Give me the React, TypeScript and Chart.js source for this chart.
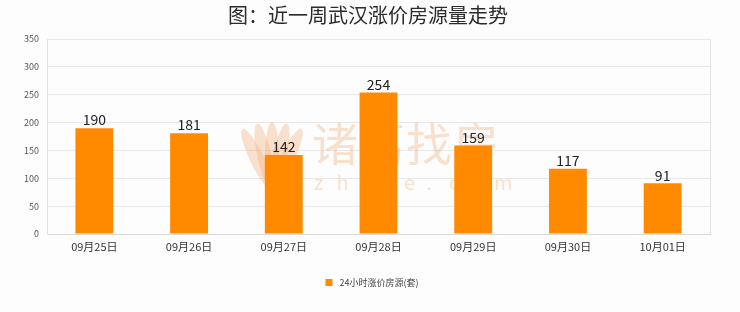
import React, { useEffect, useRef } from "react";
import { Chart, registerables } from "chart.js";

Chart.register(...registerables);

const categories = ["09月25日", "09月26日", "09月27日", "09月28日", "09月29日", "09月30日", "10月01日"];
const risingListings = [190, 181, 142, 254, 159, 117, 91];
const seriesName = "24小时涨价房源(套)";
const chartTitle = "图：近一周武汉涨价房源量走势";
const yTicks = [0, 50, 100, 150, 200, 250, 300, 350];

const BAR_COLOR = "#ff8a00";
const FONT = "'Noto Sans CJK SC', 'DejaVu Sans', sans-serif";

const decorPlugin = {
  id: "decor",
  beforeDatasetsDraw(chart: any) {
    const { ctx, chartArea } = chart;
    ctx.save();
    // right border of the plot
    ctx.strokeStyle = "#e3e3e3";
    ctx.lineWidth = 1;
    ctx.beginPath();
    ctx.moveTo(chartArea.right + 0.5, chartArea.top);
    ctx.lineTo(chartArea.right + 0.5, chartArea.bottom);
    ctx.stroke();

    // watermark
    ctx.fillStyle = "rgba(242, 160, 95, 0.30)";
    // petal logo
    const cx = 272, cy = 168;
    const petals = [-0.45, -0.22, 0, 0.22, 0.45];
    petals.forEach((a) => {
      ctx.save();
      ctx.translate(cx, cy + 22);
      ctx.rotate(a);
      ctx.beginPath();
      ctx.ellipse(0, -34, 7, 34, 0, 0, Math.PI * 2);
      ctx.fill();
      ctx.restore();
    });
    ctx.font = `46px ${FONT}`;
    ctx.textAlign = "left";
    ctx.textBaseline = "middle";
    const wm = "诸葛找房";
    for (let i = 0; i < wm.length; i++) {
      ctx.fillText(wm[i], 312 + i * 47, 144);
    }
    ctx.font = `20px ${FONT}`;
    const dom = "zhuge.com";
    for (let i = 0; i < dom.length; i++) {
      ctx.fillText(dom[i], 314 + i * 22.5, 182);
    }
    ctx.restore();
  },
  afterDatasetsDraw(chart: any) {
    const { ctx } = chart;
    const meta = chart.getDatasetMeta(0);
    ctx.save();
    ctx.fillStyle = "#222";
    ctx.font = `14px ${FONT}`;
    ctx.textAlign = "center";
    ctx.textBaseline = "bottom";
    meta.data.forEach((bar: any, i: number) => {
      ctx.fillText(String(risingListings[i]), bar.x, bar.y - 1);
    });
    ctx.restore();
  },
  afterDraw(chart: any) {
    const { ctx, width } = chart;
    ctx.save();
    // title
    ctx.fillStyle = "#2b2b2b";
    ctx.font = `20px ${FONT}`;
    ctx.textAlign = "center";
    ctx.textBaseline = "middle";
    ctx.fillText(chartTitle, 368, 15);
    // legend
    ctx.font = `9px ${FONT}`;
    ctx.textAlign = "left";
    const textW = ctx.measureText(seriesName).width;
    const total = 7 + 7 + textW;
    const x0 = width / 2 + 2 - total / 2;
    ctx.fillStyle = BAR_COLOR;
    ctx.fillRect(x0, 279, 7, 7);
    ctx.fillStyle = "#444";
    ctx.fillText(seriesName, x0 + 14, 283);
    ctx.restore();
  },
};

export default function App() {
  const ref = useRef<HTMLCanvasElement>(null);
  useEffect(() => {
    if (!ref.current) return;
    const chart = new Chart(ref.current, {
      type: "bar",
      data: {
        labels: categories,
        datasets: [
          {
            label: seriesName,
            data: risingListings,
            backgroundColor: BAR_COLOR,
            barPercentage: 0.4,
            categoryPercentage: 1,
          },
        ],
      },
      options: {
        animation: false,
        responsive: false,
        maintainAspectRatio: false,
        layout: { padding: { top: 39, right: 30, left: 0, bottom: 0 } },
        plugins: {
          legend: { display: false },
          title: { display: false },
          tooltip: { enabled: false },
        },
        scales: {
          x: {
            grid: { display: false, drawTicks: false },
            border: { display: true, color: "#d9d9d9" },
            ticks: { color: "#333", font: { size: 11, family: FONT }, padding: 6, maxRotation: 0 },
            afterFit(scale: any) {
              scale.height = 78;
            },
          },
          y: {
            min: 0,
            max: 350,
            afterBuildTicks(scale: any) {
              scale.ticks = yTicks.map((v) => ({ value: v }));
            },
            grid: { color: "#e8e8e8", drawTicks: false },
            border: { display: true, color: "#e3e3e3" },
            ticks: { color: "#555", font: { size: 9, family: FONT }, padding: 8 },
            afterFit(scale: any) {
              scale.width = 47;
            },
          },
        },
      },
      plugins: [decorPlugin],
    });
    return () => chart.destroy();
  }, []);
  return (
    <div style={{ position: "fixed", left: 0, top: 0, width: 740, height: 312, background: "#fdfdfd" }}>
      <canvas ref={ref} width={740} height={312} style={{ display: "block" }} />
    </div>
  );
}
